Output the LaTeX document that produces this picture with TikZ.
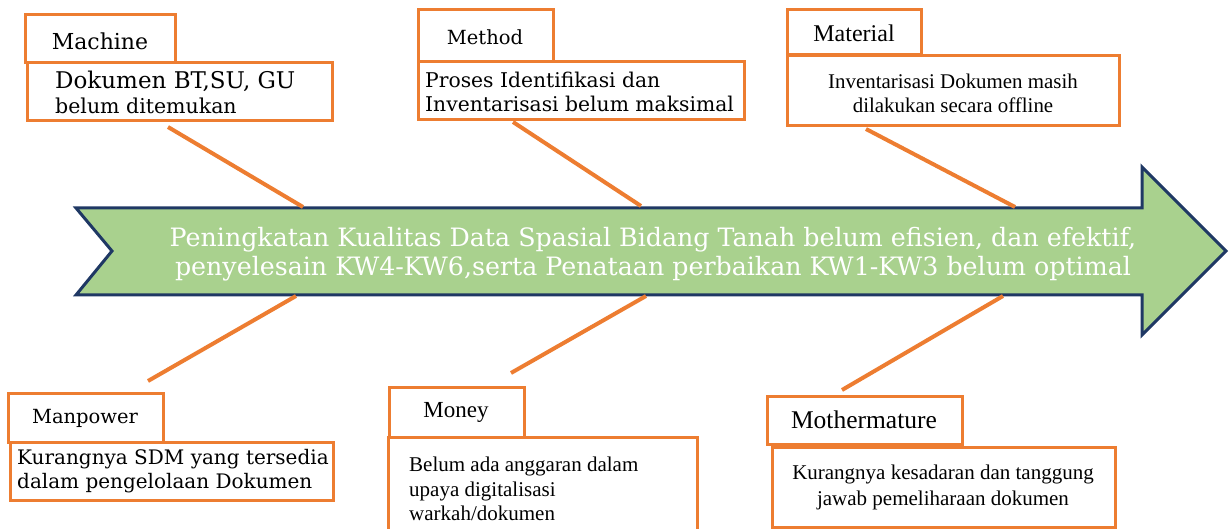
\documentclass[tikz,border=0pt]{standalone}
\usepackage{fontspec}
\setmainfont{DejaVu Serif}
\newfontfamily\tms{Liberation Serif}
\definecolor{orng}{HTML}{ED7D31}
\definecolor{grn}{HTML}{A9D18E}
\definecolor{navy}{HTML}{1F3864}
\tikzset{
  box/.style={draw=orng, line width=3pt, fill=white, inner sep=0pt, outer sep=0pt, anchor=north west},
  bone/.style={draw=orng, line width=4pt},
  lbl/.style={inner sep=0pt, text=black},
  fishbody/.style={draw=navy, line width=3pt, fill=grn, line join=miter},
}
\begin{document}
\begin{tikzpicture}[x=1pt,y=-1pt]
\useasboundingbox (0,0) rectangle (1232,529);

% main arrow
\draw[fishbody] (76,208) coordinate (bTL) -- (1142,208) -- (1142,167) -- (1226,251) -- (1142,335) -- (1142,295) -- (76,295) coordinate (bBL) -- (112,251) -- cycle;
\node[lbl, text=white, align=center, font=\fontsize{25.3}{28.5}\selectfont] (prob) at (653,254)
  {Peningkatan Kualitas Data Spasial Bidang Tanah belum efisien, dan efektif,\\
   penyelesain KW4-KW6,serta Penataan perbaikan KW1-KW3 belum optimal};

% ---- Machine
\node[box, minimum width=150, minimum height=48] (machL) at (25,15) {};
\node[lbl, font=\fontsize{22}{24}\selectfont] (machLT) at (100,41) {Machine};
\node[box, minimum width=305, minimum height=58] (machD) at (27,63) {};
\node[lbl, anchor=west, align=left, font=\fontsize{23}{25}\selectfont] (machDT) at (55,92)
  {Dokumen BT,SU, GU\\{\fontsize{20.5}{25}\selectfont belum ditemukan}};

% ---- Method
\node[box, minimum width=135, minimum height=52] (methL) at (418,10) {};
\node[lbl, font=\fontsize{19.5}{24}\selectfont] (methLT) at (485,37) {Method};
\node[box, minimum width=326, minimum height=58] (methD) at (418,62) {};
\node[lbl, anchor=west, align=left, font=\fontsize{20.3}{24}\selectfont] (methDT) at (425,92)
  {Proses Identifikasi dan\\Inventarisasi belum maksimal};

% ---- Material
\node[box, minimum width=134, minimum height=45] (matL) at (787,10) {};
\node[lbl, font=\tms\fontsize{24}{24}\selectfont] (matLT) at (854,33) {Material};
\node[box, minimum width=332, minimum height=70] (matD) at (787,56) {};
\node[lbl, align=center, font=\tms\fontsize{20.9}{24}\selectfont] (matDT) at (953,93)
  {Inventarisasi Dokumen masih\\dilakukan secara offline};

% ---- Manpower
\node[box, minimum width=155, minimum height=49] (manL) at (8,393) {};
\node[lbl, font=\fontsize{19.5}{24}\selectfont] (manLT) at (85,418) {Manpower};
\node[box, minimum width=323, minimum height=58] (manD) at (10,442) {};
\node[lbl, anchor=west, align=left, font=\fontsize{20}{24}\selectfont] (manDT) at (17,471)
  {Kurangnya SDM yang tersedia\\dalam pengelolaan Dokumen};

% ---- Money
\node[box, minimum width=135, minimum height=50] (monL) at (389,387) {};
\node[lbl, font=\tms\fontsize{23}{24}\selectfont] (monLT) at (456,412) {Money};
\node[box, minimum width=309, minimum height=104] (monD) at (388,437) {};
\node[lbl, anchor=west, align=left, font=\tms\fontsize{21}{24.5}\selectfont] (monDT) at (409,489)
  {Belum ada anggaran dalam\\upaya digitalisasi\\warkah/dokumen};

% ---- Mothermature
\node[box, minimum width=195, minimum height=48] (motL) at (767,396) {};
\node[lbl, font=\tms\fontsize{25.5}{26}\selectfont] (motLT) at (864,420) {Mothermature};
\node[box, minimum width=343, minimum height=80] (motD) at (772,447) {};
\node[lbl, align=center, font=\tms\fontsize{21}{26}\selectfont] (motDT) at (943,487)
  {Kurangnya kesadaran dan tanggung\\jawab pemeliharaan dokumen};

% ---- bones
\coordinate (c1a) at (168,127); \coordinate (c1b) at (303,207);
\coordinate (c2a) at (513,122); \coordinate (c2b) at (641,206);
\coordinate (c3a) at (866,129); \coordinate (c3b) at (1015,207);
\coordinate (c4a) at (148,381); \coordinate (c4b) at (296,296);
\coordinate (c5a) at (511,373); \coordinate (c5b) at (646,296);
\coordinate (c6a) at (842,390); \coordinate (c6b) at (1003,296);
\draw[bone] (c1a) -- (c1b);
\draw[bone] (c2a) -- (c2b);
\draw[bone] (c3a) -- (c3b);
\draw[bone] (c4a) -- (c4b);
\draw[bone] (c5a) -- (c5b);
\draw[bone] (c6a) -- (c6b);
\end{tikzpicture}
\end{document}
